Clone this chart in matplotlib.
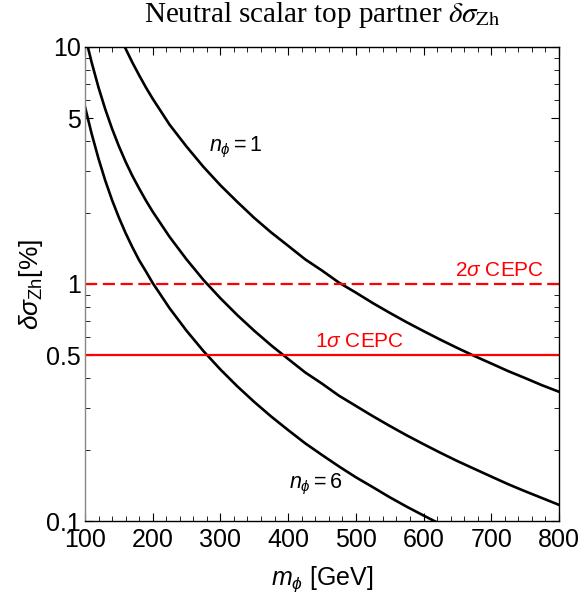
import matplotlib
matplotlib.use("Agg")
import matplotlib.pyplot as plt
from matplotlib.ticker import FixedLocator, NullFormatter, MultipleLocator

plt.rcParams["font.family"] = ["Liberation Sans", "DejaVu Sans"]
plt.rcParams["mathtext.fontset"] = "custom"
plt.rcParams["mathtext.rm"] = "Liberation Sans"
plt.rcParams["mathtext.it"] = "Liberation Sans:italic"

# values
m_phi = [100, 110, 120, 130, 140, 150, 160, 170, 180, 190, 200, 225, 250, 275,
         300, 325, 350, 375, 400, 425, 450, 475, 500, 525, 550, 575, 600, 625,
         650, 675, 700, 725, 750, 775, 800]
dsig_n1 = [33.6, 25.7, 20.3, 16.4, 13.6, 11.5, 9.84, 8.6, 7.6, 6.75, 6.05, 4.7,
           3.8, 3.12, 2.61, 2.22, 1.9, 1.65, 1.45, 1.272, 1.14, 1.014, 0.92,
           0.831, 0.756, 0.69, 0.633, 0.582, 0.537, 0.497, 0.462, 0.429, 0.401,
           0.374, 0.351]
dsig_n3 = [11.2, 8.58, 6.75, 5.46, 4.52, 3.82, 3.28, 2.86, 2.53, 2.25, 2.02, 1.58,
           1.27, 1.04, 0.871, 0.739, 0.635, 0.551, 0.483, 0.424, 0.38, 0.338,
           0.306, 0.277, 0.252, 0.230, 0.211, 0.194, 0.179, 0.166, 0.154, 0.143,
           0.1335, 0.125, 0.117]
dsig_n6 = [5.6, 4.29, 3.38, 2.73, 2.26, 1.91, 1.64, 1.43, 1.26, 1.13, 1.01, 0.79,
           0.635, 0.521, 0.436, 0.370, 0.318, 0.276, 0.242, 0.213, 0.190, 0.170,
           0.153, 0.139, 0.126, 0.115, 0.1055, 0.097, 0.0895]
cepc_2sigma = 1.0
cepc_1sigma = 0.5

y_major = [0.1, 0.5, 1, 5, 10]
y_major_labels = ["0.1", "0.5", "1", "5", "10"]
y_minor = [0.2, 0.3, 0.4, 0.6, 0.7, 0.8, 0.9, 2, 3, 4, 6, 7, 8, 9]

fig = plt.figure(figsize=(5.78, 5.97), dpi=100)
ax = fig.add_axes([0.147, 0.1273, 0.82, 0.794])

for ys in (dsig_n1, dsig_n3, dsig_n6):
    ax.plot(m_phi[:len(ys)], ys, color="black", lw=1.9)

ax.axhline(cepc_2sigma, color="#ff0000", lw=1.6, ls=(0, (5.5, 2.5)))
ax.axhline(cepc_1sigma, color="#ff0000", lw=1.6)

ax.set_yscale("log")
ax.set_xlim(100, 800)
ax.set_ylim(0.1, 10)

ax.yaxis.set_major_locator(FixedLocator(y_major))
ax.set_yticklabels(y_major_labels)
ax.yaxis.set_minor_locator(FixedLocator(y_minor))
ax.yaxis.set_minor_formatter(NullFormatter())
ax.xaxis.set_major_locator(MultipleLocator(100))
ax.xaxis.set_minor_locator(MultipleLocator(20))

ax.tick_params(which="both", direction="in", top=True, right=True,
               labelsize=18)
ax.tick_params(axis="x", pad=5)
ax.tick_params(axis="y", pad=3)
ax.tick_params(which="major", length=6, width=0.8)
ax.tick_params(which="minor", length=3.5, width=0.6)
ax.spines["left"].set_color("#888888")
for s in ax.spines.values():
    s.set_linewidth(1.0)

ax.set_xlabel(r"$m_\phi$ [GeV]", fontsize=18, labelpad=9)
ax.set_ylabel(r"$\delta\sigma_{\rm Zh}$[%]", fontsize=19, labelpad=1)
ax.set_title(r"Neutral scalar top partner $\delta\sigma_{\rm Zh}$",
             fontsize=21, family="Liberation Serif", math_fontfamily="stix",
             pad=18)

ax.text(323, 3.75, r"$n_\phi = 1$", fontsize=15.5, ha="center", va="center")
ax.text(441, 0.142, r"$n_\phi = 6$", fontsize=15.5, ha="center", va="center")
ax.text(713, 1.04, r"2$\sigma$ CEPC", fontsize=15, color="#ff0000",
        ha="center", va="bottom")
ax.text(506, 0.52, r"1$\sigma$ CEPC", fontsize=15, color="#ff0000",
        ha="center", va="bottom")

fig.savefig("out.png", dpi=100)
